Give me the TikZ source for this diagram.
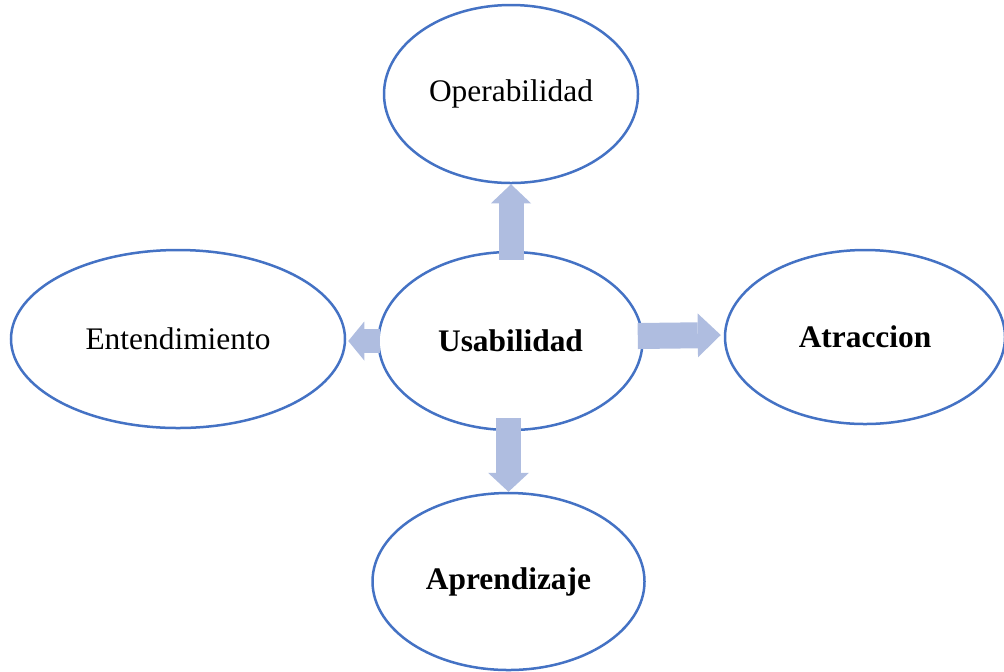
\documentclass[tikz,border=0pt]{standalone}
\usepackage{fontspec}
\setmainfont{Liberation Serif}
\usetikzlibrary{shapes.geometric,arrows.meta}
\definecolor{ringblue}{HTML}{4472C4}
\definecolor{arrowfill}{HTML}{AFBDE0}
\tikzset{
  bubble/.style={ellipse, draw=ringblue, line width=1.25pt, fill=white, inner sep=0pt,
    font=\fontsize{15.7}{18}\selectfont},
  bold bubble/.style={bubble, font=\fontsize{15.7}{18}\selectfont\bfseries},
  blockarrow/.style={draw=arrowfill, line width=#1, line cap=butt},
}
\begin{document}
\begin{tikzpicture}[x=0.5pt,y=-0.5pt]
\useasboundingbox (0,0) rectangle (1004,671);
% the five ellipses
\node[bubble, minimum width=127pt, minimum height=89pt] (op) at (511,94) {Operabilidad};
\node[bubble, minimum width=167pt, minimum height=89pt] (en) at (178,339) {Entendimiento};
\node[bold bubble, minimum width=132pt, minimum height=89pt] (us) at (510.5,341) {Usabilidad};
\node[bold bubble, minimum width=140pt, minimum height=87pt] (at) at (865,337) {Atraccion};
\node[bold bubble, minimum width=136pt, minimum height=88.5pt] (ap) at (508.5,581.5) {Aprendizaje};
% block arrows leaving the central ellipse
\draw[blockarrow=12.5pt, -{Triangle[width=20pt,length=9.5pt,line width=0pt]}]
  ([yshift=-4.5pt]op.south |- us.north) -- (op.south);
\draw[blockarrow=12pt, -{Triangle[width=19.5pt,length=8pt,line width=0pt]}]
  ([xshift=1.5pt]us.west) -- ([xshift=1pt]en.east |- us.west);
\draw[blockarrow=13pt, -{Triangle[width=22pt,length=11.5pt,line width=0pt]}]
  ([xshift=-3pt,yshift=2.5pt]us.east) -- ([xshift=-1.5pt]at.west |- 0,335);
\draw[blockarrow=12.5pt, -{Triangle[width=20.5pt,length=9.5pt,line width=0pt]}]
  ([yshift=6.5pt]ap.north |- us.south) -- (ap.north);
\end{tikzpicture}
\end{document}
